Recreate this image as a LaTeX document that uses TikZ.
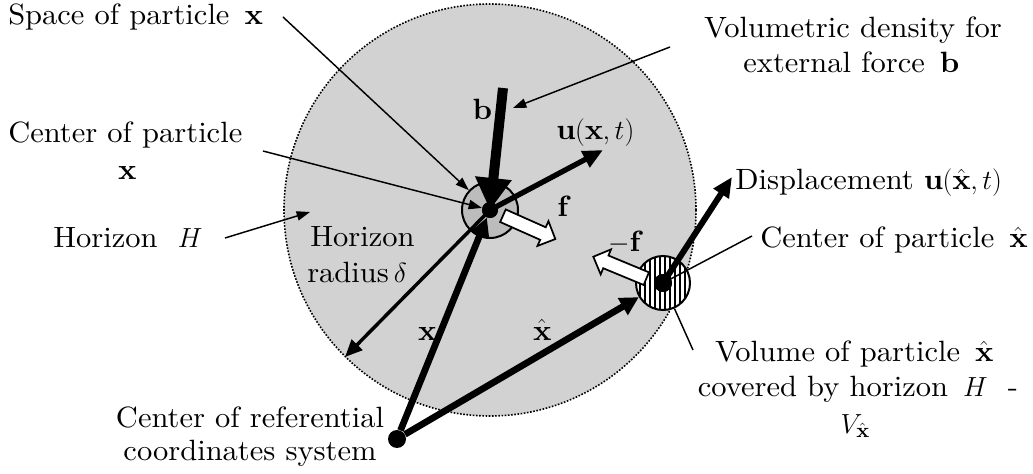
\documentclass[tikz,border=0pt]{standalone}
\usepackage{fontspec}
\setmainfont{lmroman10-regular.otf}[FakeStretch=1.04,BoldFont=lmroman10-bold.otf,ItalicFont=lmroman10-italic.otf]
\usetikzlibrary{arrows.meta,shapes.arrows,patterns.meta}
\definecolor{bg}{RGB}{210,210,210}
\definecolor{innergray}{RGB}{188,188,188}
\begin{document}
\begin{tikzpicture}[x=0.75pt,y=-0.75pt,font=\fontsize{22}{26.5}\selectfont,
 lbl/.style={inner sep=0pt},
 note/.style={line width=1.1pt,-{Triangle[length=10pt,width=7pt]}},
 noteline/.style={line width=1.1pt},
 vec/.style={line width=5pt,-{Triangle[length=14pt,width=14pt]}},
 dotnode/.style={circle,fill=black,inner sep=0pt},
 warrow/.style={single arrow,draw=black,line width=1.3pt,fill=white,inner xsep=0pt,inner ysep=4.5pt,single arrow head extend=5pt,minimum height=43pt}]
\useasboundingbox (0,0) rectangle (1033,474);
% horizon
\node[circle,minimum size=309pt,inner sep=0pt,fill=bg,draw=black,line width=1.2pt,dash pattern=on 1.2pt off 1.2pt] (hor) at (490,210) {};
% particles
\node[circle,minimum size=42pt,inner sep=0pt,fill=innergray,draw=black,line width=1.5pt] (px) at (490,210) {};
\node[circle,minimum size=40.5pt,inner sep=0pt,preaction={fill=white},pattern={Lines[angle=90,distance=3.75pt,line width=1.4pt]},draw=black,line width=1.5pt] (pxh) at (663,283) {};
\node[dotnode,minimum size=12pt] (cx) at (490,210) {};
\node[dotnode,minimum size=13.5pt] (cxh) at (663,283) {};
\node[dotnode,minimum size=13.5pt] (o) at (397,439) {};
% vectors
\draw[vec] (o) -- (cx);
\draw[vec] (o) -- (pxh);
\coordinate (rad) at (345,357);
\draw[line width=2.6pt,-{Triangle[length=13pt,width=11pt]}] (cx.center) -- (rad);
\coordinate (utip) at (603,150);
\draw[line width=4pt,-{Triangle[length=15pt,width=13pt]}] (cx.center) -- (utip);
\coordinate (dtip) at (732,177);
\draw[line width=4.5pt,-{Triangle[length=15pt,width=13pt]}] (cxh.center) -- (dtip);
\coordinate (btop) at (503,88);
\draw[line width=7.5pt,-{Triangle[length=24pt,width=26pt]}] (btop) -- (cx.center);
% forces
\node[warrow,rotate=-24] (f) at (526,226) {};
\node[warrow,rotate=157.5] (mf) at (623,269) {};
\node[dotnode,minimum size=12pt] at (cx) {};
\node[dotnode,minimum size=13.5pt] at (cxh) {};
% labels
\node[lbl,anchor=base west] (tspace) at (8,25) {Space of particle\, $\mathbf{x}$};
\node[lbl,anchor=base west] (tcen1) at (8,143) {Center of particle};
\node[lbl,anchor=base] (tcen2) at (127,180) {$\mathbf{x}$};
\node[lbl,anchor=base west] (thor) at (53,248) {Horizon \ $H$};
\node[lbl,anchor=base west] (trad1) at (310,247) {Horizon};
\node[lbl,anchor=base west] (trad2) at (307,283) {radius\,$\delta$};
\node[lbl,anchor=base] (tvol1) at (853,38) {Volumetric density for};
\node[lbl,anchor=base] (tvol2) at (851,73) {external force\, $\mathbf{b}$};
\node[lbl,anchor=base west] (tdisp) at (735,190) {Displacement $\mathbf{u}(\hat{\mathbf{x}},t)$};
\node[lbl,anchor=base west] (tcenh) at (760,248) {Center of particle\, $\hat{\mathbf{x}}$};
\node[lbl,anchor=base] (tv1) at (854,362) {Volume of particle\, $\hat{\mathbf{x}}$};
\node[lbl,anchor=base] (tv2) at (858,397) {covered by horizon\, $H$ \ -};
\node[lbl,anchor=base] (tv3) at (855,433) {$V_{\hat{\mathbf{x}}}$};
\node[lbl,anchor=base] (tref1) at (250,427) {Center of referential};
\node[lbl,anchor=base] (tref2) at (250,460) {coordinates system};
\node[lbl,anchor=base] (tb) at (482,120) {$\mathbf{b}$};
\node[lbl,anchor=base west] (tu) at (556,140) {$\mathbf{u}(\mathbf{x},t)$};
\node[lbl,anchor=base west] (tf) at (557,217) {$\mathbf{f}$};
\node[lbl,anchor=base] (tmf) at (624,252) {$-\mathbf{f}$};
\node[lbl,anchor=base] (tx) at (427,340) {$\mathbf{x}$};
\node[lbl,anchor=base] (txh) at (542,340) {$\hat{\mathbf{x}}$};
% annotation lines
\coordinate (a1) at (283,17);
\draw[note] (a1) -- (px);
\coordinate (a2) at (263,151);
\draw[note] (a2) -- (cx);
\coordinate (a3) at (225,238);
\coordinate (a3t) at (310,212);
\draw[note] (a3) -- (a3t);
\coordinate (a4) at (670,47);
\coordinate (a4t) at (513,108);
\draw[note] (a4) -- (a4t);
\coordinate (a5) at (752,236);
\draw[noteline] (a5) -- (cxh);
\coordinate (a6) at (693,350);
\draw[noteline] (a6) -- (pxh);
\end{tikzpicture}
\end{document}
